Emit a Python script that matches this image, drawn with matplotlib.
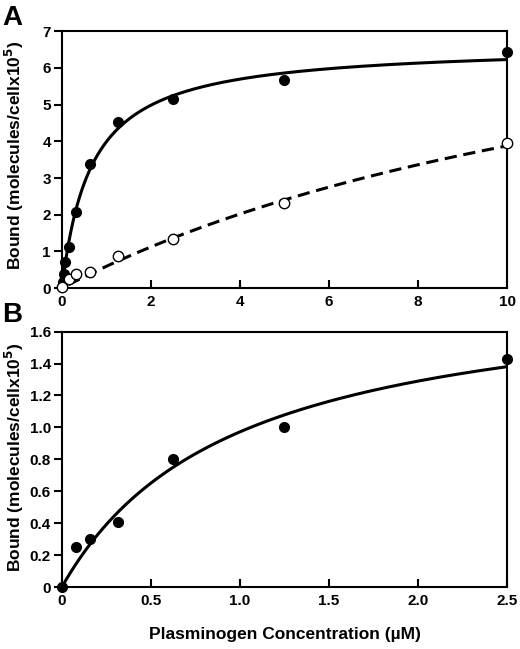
import numpy as np
import matplotlib.pyplot as plt

plt.rcParams['font.family'] = ['Liberation Sans', 'DejaVu Sans']
plt.rcParams['font.weight'] = 'bold'

# Panel A data (molecules/cell x 10^5)
a_filled_x = [0.02, 0.039, 0.078, 0.156, 0.3125, 0.625, 1.25, 2.5, 5, 10]
a_filled_y = [0.16, 0.39, 0.72, 1.12, 2.07, 3.39, 4.53, 5.15, 5.67, 6.44]
a_open_x = [0, 0.156, 0.3125, 0.625, 1.25, 2.5, 5, 10]
a_open_y = [0.02, 0.25, 0.38, 0.45, 0.88, 1.35, 2.31, 3.94]
# fitted binding curves (Bmax, Kd)
a_fit_solid = (6.64, 0.665)
a_fit_dashed = (10.0, 15.8)
a_xticks = [0, 2, 4, 6, 8, 10]
a_yticks = [0, 1, 2, 3, 4, 5, 6, 7]

# Panel B data
b_x = [0, 0.078, 0.156, 0.3125, 0.625, 1.25, 2.5]
b_y = [0, 0.25, 0.30, 0.41, 0.80, 1.00, 1.43]
b_fit = (1.917, 0.972)
b_xticks = [0, 0.5, 1.0, 1.5, 2.0, 2.5]
b_xlabels = ['0', '0.5', '1.0', '1.5', '2.0', '2.5']
b_yticks = [0, 0.2, 0.4, 0.6, 0.8, 1.0, 1.2, 1.4, 1.6]
b_ylabels = ['0', '0.2', '0.4', '0.6', '0.8', '1.0', '1.2', '1.4', '1.6']

ylabel = 'Bound (molecules/cellx10$^{\\mathbf{5}}$)'


def hyperbola(x, fit):
    bmax, kd = fit
    return bmax * x / (kd + x)


def style(ax):
    for s in ax.spines.values():
        s.set_linewidth(1.5)
    ax.tick_params(axis='x', direction='in', length=6, width=1.5, labelsize=11, pad=5)
    ax.tick_params(axis='y', direction='out', length=6, width=1.5, labelsize=11, pad=2)
    for lab in ax.get_xticklabels() + ax.get_yticklabels():
        lab.set_fontweight('bold')


fig = plt.figure(figsize=(5.2, 6.49), dpi=100)
axA = fig.add_axes([0.119, 0.556, 0.856, 0.396])
axB = fig.add_axes([0.119, 0.0955, 0.856, 0.3935])

# Panel A
xs = np.linspace(0, 10, 400)
axA.plot(xs, hyperbola(xs, a_fit_solid), color='black', lw=2.2)
xd = np.linspace(0.15, 10, 400)
axA.plot(xd, hyperbola(xd, a_fit_dashed), color='black', lw=2.2, ls=(0, (4, 2.2)))
axA.plot(a_filled_x, a_filled_y, 'o', color='black', ms=7, clip_on=False, zorder=4)
axA.plot(a_open_x, a_open_y, 'o', mfc='white', mec='black', mew=1.0, ms=7.5,
         clip_on=False, zorder=5)
axA.set_xlim(0, 10)
axA.set_ylim(0, 7)
axA.set_xticks(a_xticks)
axA.set_yticks(a_yticks)
style(axA)

# Panel B
xb = np.linspace(0, 2.5, 400)
axB.plot(xb, hyperbola(xb, b_fit), color='black', lw=2.2)
axB.plot(b_x, b_y, 'o', color='black', ms=7, clip_on=False, zorder=4)
axB.set_xlim(0, 2.5)
axB.set_ylim(0, 1.6)
axB.set_xticks(b_xticks)
axB.set_xticklabels(b_xlabels)
axB.set_yticks(b_yticks)
axB.set_yticklabels(b_ylabels)
style(axB)
axB.set_xlabel('Plasminogen Concentration (µM)', fontsize=12.5, fontweight='bold',
               labelpad=14)

fig.text(0.027, 0.761, ylabel, fontsize=12.5, fontweight='bold', rotation=90,
         ha='center', va='center')
fig.text(0.027, 0.296, ylabel, fontsize=12.5, fontweight='bold', rotation=90,
         ha='center', va='center')

fig.text(0.004, 0.973, 'A', fontsize=20, fontweight='bold', va='center')
fig.text(0.004, 0.515, 'B', fontsize=20, fontweight='bold', va='center')

fig.savefig('out.png', dpi=100)
